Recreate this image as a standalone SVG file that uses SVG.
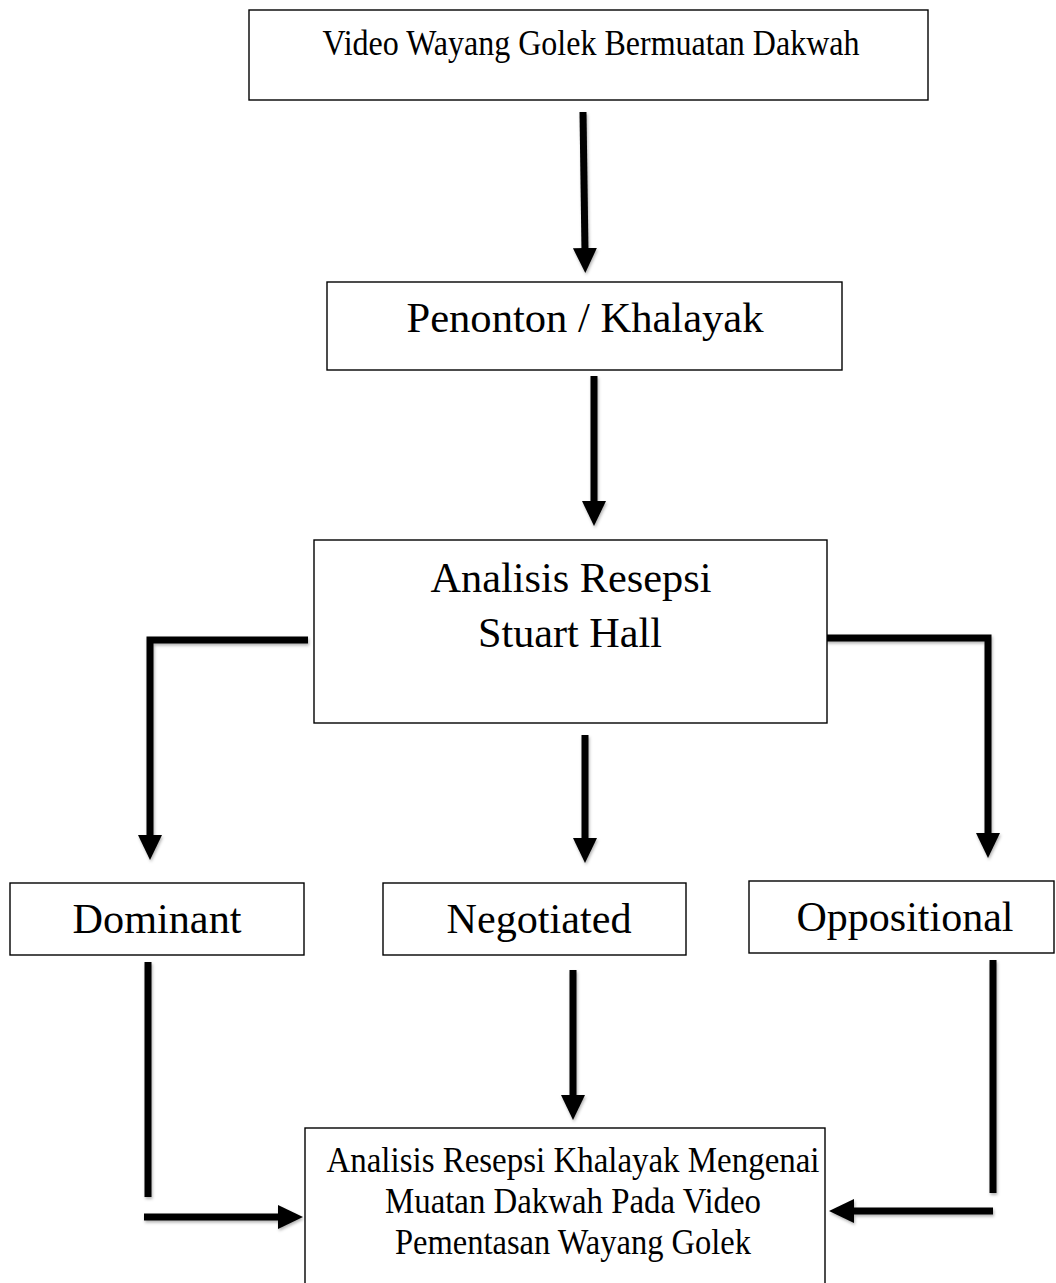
<svg xmlns="http://www.w3.org/2000/svg" width="1056" height="1283" viewBox="0 0 1056 1283">
<style>
.box{fill:#fff;stroke:#000;stroke-width:1.4}
.t{font-family:"Liberation Serif","Times New Roman",serif;fill:#000;text-anchor:middle}
.big{font-size:43px}
.small{font-size:35px}
.arr{fill:none;stroke:#000;stroke-width:7;stroke-linejoin:miter;filter:url(#sh)}
</style>
<defs>
<marker id="ah" markerUnits="userSpaceOnUse" markerWidth="25" markerHeight="25" viewBox="0 0 25 24" refX="4" refY="12" orient="auto">
<path d="M0,0 L25,12 L0,24 z" fill="#000"/>
</marker>
<filter id="sh" filterUnits="userSpaceOnUse" x="0" y="0" width="1056" height="1283">
<feDropShadow dx="1" dy="2" stdDeviation="1.5" flood-color="#000" flood-opacity="0.3"/>
</filter>
</defs>
<rect width="1056" height="1283" fill="#fff"/>
<g id="connectors">
<path class="arr" d="M583,112 L585,252" marker-end="url(#ah)"/>
<path class="arr" d="M594,376 L594,505" marker-end="url(#ah)"/>
<path class="arr" d="M308,640 H150 V839" marker-end="url(#ah)"/>
<path class="arr" d="M585,735 V842" marker-end="url(#ah)"/>
<path class="arr" d="M826,638 H988 V837" marker-end="url(#ah)"/>
<path class="arr" d="M148,962 V1197"/>
<path class="arr" d="M144,1217 H282" marker-end="url(#ah)"/>
<path class="arr" d="M573,970 V1099" marker-end="url(#ah)"/>
<path class="arr" d="M993,960 V1193"/>
<path class="arr" d="M993,1211 H850" marker-end="url(#ah)"/>
</g>
<g id="node-video">
<rect class="box" x="249" y="10" width="679" height="90"/>
<text class="t small" x="591" y="55" textLength="537" lengthAdjust="spacingAndGlyphs">Video Wayang Golek Bermuatan Dakwah</text>
</g>
<g id="node-penonton">
<rect class="box" x="327" y="282" width="515" height="88"/>
<text class="t big" x="585" y="332" textLength="357" lengthAdjust="spacingAndGlyphs">Penonton / Khalayak</text>
</g>
<g id="node-analisis">
<rect class="box" x="314" y="540" width="513" height="183"/>
<text class="t big" x="571" y="592" textLength="281" lengthAdjust="spacingAndGlyphs">Analisis Resepsi</text>
<text class="t big" x="570" y="647" textLength="184" lengthAdjust="spacingAndGlyphs">Stuart Hall</text>
</g>
<g id="node-dominant">
<rect class="box" x="10" y="883" width="294" height="72"/>
<text class="t big" x="157" y="933" textLength="169" lengthAdjust="spacingAndGlyphs">Dominant</text>
</g>
<g id="node-negotiated">
<rect class="box" x="383" y="883" width="303" height="72"/>
<text class="t big" x="539" y="933" textLength="185" lengthAdjust="spacingAndGlyphs">Negotiated</text>
</g>
<g id="node-oppositional">
<rect class="box" x="749" y="881" width="305" height="72"/>
<text class="t big" x="905" y="931" textLength="217" lengthAdjust="spacingAndGlyphs">Oppositional</text>
</g>
<g id="node-hasil">
<rect class="box" x="305" y="1128" width="520" height="170"/>
<text class="t small" x="573" y="1172" textLength="493" lengthAdjust="spacingAndGlyphs">Analisis Resepsi Khalayak Mengenai</text>
<text class="t small" x="573" y="1213" textLength="376" lengthAdjust="spacingAndGlyphs">Muatan Dakwah Pada Video</text>
<text class="t small" x="573" y="1254" textLength="356" lengthAdjust="spacingAndGlyphs">Pementasan Wayang Golek</text>
</g>
</svg>
